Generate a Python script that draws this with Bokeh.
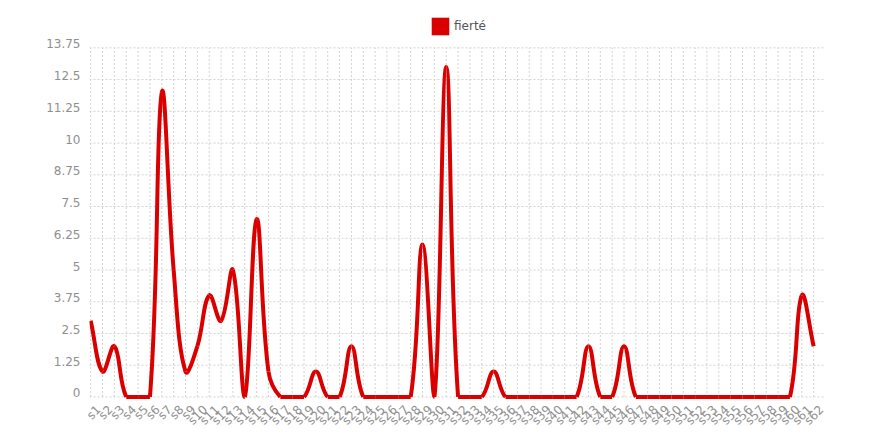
import math
import numpy as np
from bokeh.plotting import figure
from bokeh.models import Range1d, FixedTicker, Legend, LegendItem, LinearAxis, Grid
from bokeh.embed import file_html
from bokeh.resources import INLINE

# ---- data ----
categories = ["s%d" % i for i in range(1, 63)]
values = [3, 1, 2, 0, 0, 0, 12, 5, 1, 2,
          4, 3, 5, 0, 7, 1, 0, 0, 0, 1,
          0, 0, 2, 0, 0, 0, 0, 0, 6, 0,
          13, 0, 0, 0, 1, 0, 0, 0, 0, 0,
          0, 0, 2, 0, 0, 2, 0, 0, 0, 0,
          0, 0, 0, 0, 0, 0, 0, 0, 0, 0,
          4, 2]
series_name = "fierté"
y_ticks = [0, 1.25, 2.5, 3.75, 5, 6.25, 7.5, 8.75, 10, 11.25, 12.5, 13.75]
y_tick_labels = ["0", "1.25", "2.5", "3.75", "5", "6.25", "7.5", "8.75",
                 "10", "11.25", "12.5", "13.75"]

# ---- style / layout ----
RED = "#db0000"
GRID = "#d2d2d2"
LABEL = "#8f8f8f"
FONT = "DejaVu Sans"
PX_X = 11.85   # pixels per category step
PX_Y = 25.38   # pixels per value unit
TENSION = 0.4
X_MIN, X_MAX = -0.1, 62.0
Y_MIN, Y_MAX = -0.1, 15.3          # frame extends up to hold the legend
LABEL_SHIFT_Y = 4.0 / PX_Y         # y labels sit slightly above their grid lines
LABEL_SHIFT_X = 8.0 / PX_X         # x labels sit slightly right of their ticks
y_top = y_ticks[-1]

n = len(values)
xs = np.arange(n, dtype=float)
ys = np.array(values, dtype=float)

# Chart.js-like spline control points (computed in pixel space)
px = xs * PX_X
py = ys * PX_Y
cpp_x = np.zeros(n); cpp_y = np.zeros(n)
cpn_x = np.zeros(n); cpn_y = np.zeros(n)
for i in range(n):
    a = max(i - 1, 0); c = min(i + 1, n - 1)
    d01 = math.hypot(px[i] - px[a], py[i] - py[a])
    d12 = math.hypot(px[c] - px[i], py[c] - py[i])
    tot = d01 + d12
    s01 = d01 / tot if tot else 0.0
    s12 = d12 / tot if tot else 0.0
    fa = TENSION * s01; fb = TENSION * s12
    dx = px[c] - px[a]; dy = py[c] - py[a]
    cpp_x[i] = (px[i] - fa * dx) / PX_X
    cpp_y[i] = (py[i] - fa * dy) / PX_Y
    cpn_x[i] = (px[i] + fb * dx) / PX_X
    cpn_y[i] = (py[i] + fb * dy) / PX_Y
cpp_x = np.clip(cpp_x, 0, X_MAX); cpn_x = np.clip(cpn_x, 0, X_MAX)
cpp_y = np.clip(cpp_y, 0, y_top); cpn_y = np.clip(cpn_y, 0, y_top)

p = figure(width=868, height=438, output_backend="svg", toolbar_location=None,
           x_range=Range1d(X_MIN, X_MAX), y_range=Range1d(Y_MIN, Y_MAX),
           x_axis_location=None, y_axis_location=None,
           min_border_left=89, min_border_right=43, min_border_top=8,
           min_border_bottom=39)
p.outline_line_color = None
p.background_fill_color = "white"
for r in list(p.center):
    if isinstance(r, Grid):
        r.visible = False
p.extra_y_ranges = {"lab": Range1d(Y_MIN - LABEL_SHIFT_Y, Y_MAX - LABEL_SHIFT_Y)}
p.extra_x_ranges = {"lab": Range1d(X_MIN - LABEL_SHIFT_X, X_MAX - LABEL_SHIFT_X)}

# horizontal grid lines at the y ticks, vertical ones at each category
p.segment(x0=np.full(len(y_ticks), X_MIN), y0=y_ticks,
          x1=np.full(len(y_ticks), X_MAX), y1=y_ticks,
          line_color=GRID, line_width=1, line_dash="2 2")
p.segment(x0=xs, y0=np.full(n, y_ticks[0]), x1=xs, y1=np.full(n, y_top),
          line_color=GRID, line_width=1, line_dash="2 2")

p.bezier(x0=xs[:-1], y0=ys[:-1], x1=xs[1:], y1=ys[1:],
         cx0=cpn_x[:-1], cy0=cpn_y[:-1], cx1=cpp_x[1:], cy1=cpp_y[1:],
         line_color=RED, line_width=4)

dummy = p.quad(left=[np.nan], right=[np.nan], top=[np.nan], bottom=[np.nan],
               fill_color=RED, line_color=None)

legend = Legend(items=[LegendItem(label=series_name, renderers=[dummy])],
                location=(340, 362), orientation="horizontal",
                glyph_width=22, glyph_height=22, label_standoff=3,
                label_text_font=FONT, label_text_font_size="12px",
                label_text_color="#555555", padding=0, margin=0, spacing=0,
                border_line_color=None, background_fill_alpha=0,
                label_height=22)
p.add_layout(legend, "center")

# axes (labels only)
xax = LinearAxis(x_range_name="lab", ticker=FixedTicker(ticks=list(range(n))),
                 major_label_overrides={i: c for i, c in enumerate(categories)},
                 major_label_orientation=math.pi / 4)
yax = LinearAxis(y_range_name="lab", ticker=FixedTicker(ticks=y_ticks),
                 major_label_overrides={t: l for t, l in zip(y_ticks, y_tick_labels)})
p.add_layout(xax, "below")
p.add_layout(yax, "left")

for ax in (xax, yax):
    ax.axis_line_color = None
    ax.major_tick_line_color = None
    ax.minor_tick_line_color = None
    ax.major_tick_out = 0
    ax.major_tick_in = 0
    ax.major_label_text_font = FONT
    ax.major_label_text_font_size = "12px"
    ax.major_label_text_color = LABEL
xax.major_label_standoff = 8
yax.major_label_standoff = 9

open("out.html", "w").write(file_html(p, INLINE))
